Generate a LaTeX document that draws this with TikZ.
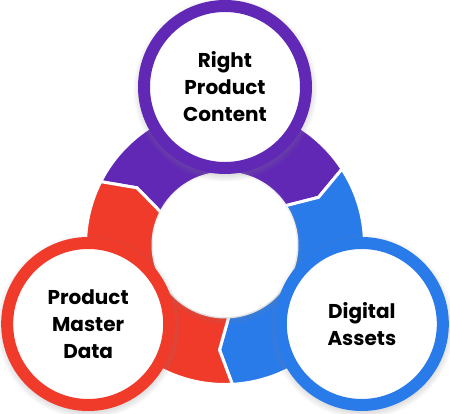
\documentclass[tikz,border=0pt]{standalone}
\usepackage{fontspec}
\setmainfont{Poppins}
\usetikzlibrary{shadows}

\definecolor{rpcPurple}{HTML}{6128B5}
\definecolor{pmdRed}{HTML}{F03A2A}
\definecolor{daBlue}{HTML}{2A7BEA}

\begin{document}
\begin{tikzpicture}[x=1pt, y=1pt,
    topic/.style={circle, draw=#1, line width=12pt, fill=white, minimum size=162pt,
      inner sep=0pt, align=center, text=black, font=\bfseries\fontsize{20}{27}\selectfont,
      circular drop shadow={shadow scale=1.14, shadow xshift=0pt, shadow yshift=-2pt, opacity=0.45}}]
        % Adjust the ring sizes as needed
        \def\ringOuter{139.5pt}
        \def\ringInner{72pt}
        \def\ringMid{105pt}
        \def\topicDist{158pt}

        \useasboundingbox (-225,-169) rectangle (225,245);

        % Ring segments (each one points into the next, clockwise)
        \foreach \col/\a in {rpcPurple/153, daBlue/33, pmdRed/-87} {
            \filldraw[fill=\col, draw=white, line width=3pt]
                (\a:\ringOuter) arc[start angle=\a, end angle=\a-120, radius=\ringOuter]
                -- (\a-126:\ringMid) -- (\a-120:\ringInner)
                arc[start angle=\a-120, end angle=\a, radius=\ringInner]
                -- (\a-6:\ringMid) -- cycle;
        }

        % White hub in the middle
        \node[circle, fill=white, minimum size=144pt, inner sep=0pt,
            circular drop shadow={shadow scale=1.08, shadow xshift=0pt, shadow yshift=-2pt, opacity=0.35}] (hub) at (0,0) {};

        % Topic circles
        \node[topic=rpcPurple] (rpc) at (90:\topicDist) {Right\\Product\\Content};
        \node[topic=pmdRed] (pmd) at (210:\topicDist) {Product\\Master\\Data};
        \node[topic=daBlue] (da) at (330:\topicDist) {Digital\\Assets};

\end{tikzpicture}
\end{document}
